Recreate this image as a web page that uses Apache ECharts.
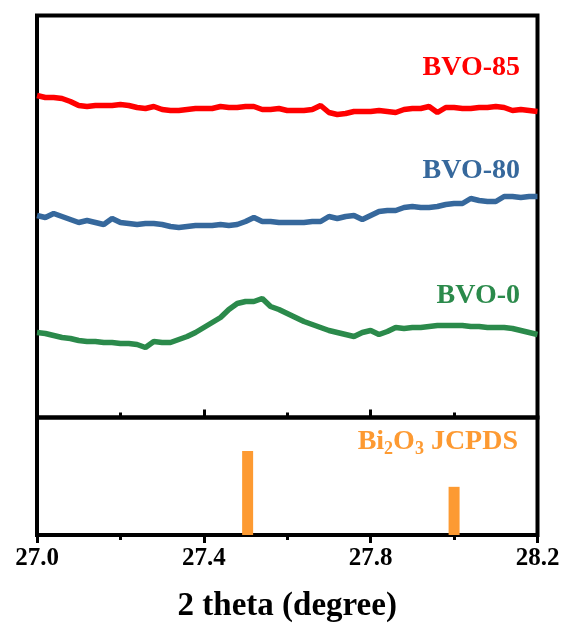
<!DOCTYPE html>
<html>
<head>
<meta charset="utf-8">
<script src="https://cdn.jsdelivr.net/npm/echarts@6/dist/echarts.min.js"></script>
<style>
  html, body { margin: 0; padding: 0; background: #fff; }
  #main { width: 566px; height: 628px; }
</style>
</head>
<body>
<div id="main"></div>
<script>
'use strict';

// 2 theta, step 0.02 from 27.00 to 28.20
var twoTheta = [];
for (var i = 0; i <= 60; i++) twoTheta.push(+(27 + i * 0.02).toFixed(2));

// intensities (a.u., offset traces as plotted)
var bvo85 = [322, 320, 320, 319, 316, 312, 311, 312, 312, 312, 313, 312, 310, 309, 311, 308, 307, 307, 308, 309,
  309, 309, 311, 310, 310, 311, 311, 308, 308, 309, 307, 307, 307, 308, 312, 305, 303, 304, 306, 306,
  306, 307, 306, 305, 308, 309, 309, 311, 305, 310, 310, 309, 309, 310, 310, 311, 310, 307, 308, 307, 306];
var bvo80 = [202, 200, 204, 201, 198, 195, 197, 195, 193, 199, 195, 194, 193, 194, 194, 193, 191, 190, 191, 192,
  192, 192, 193, 192, 193, 196, 200, 196, 196, 195, 195, 195, 195, 196, 196, 201, 199, 201, 202, 198,
  202, 206, 207, 207, 210, 211, 210, 210, 211, 213, 214, 214, 219, 217, 216, 216, 221, 221, 220, 221, 221];
var bvo0 = [85, 84, 82, 80, 79, 77, 76, 76, 75, 75, 74, 74, 73, 70, 76, 75, 75, 78, 81, 85,
  90, 95, 100, 108, 114, 116, 116, 119, 111, 108, 104, 100, 96, 93, 90, 87, 85, 83, 81, 85,
  87, 83, 86, 90, 89, 90, 90, 91, 92, 92, 92, 92, 91, 91, 90, 90, 90, 89, 87, 85, 83];

// Bi2O3 reference lines (JCPDS)
var refPos = [27.505, 28.0];
var refInt = [71.5, 41];

var xTicks = [27.0, 27.4, 27.8, 28.2];

var serif = '"Liberation Serif", "Times New Roman", serif';

function pairs(xs, ys) {
  return xs.map(function (x, k) { return [x, ys[k]]; });
}

var chart = echarts.init(document.getElementById('main'), null, { renderer: 'canvas' });

var xBase = {
  type: 'value',
  min: xTicks[0],
  max: xTicks[xTicks.length - 1],
  interval: 0.4,
  axisLine: { show: false },
  splitLine: { show: false },
  minorTick: { show: true, splitNumber: 2, length: 5, lineStyle: { color: '#000', width: 3 } },
  axisTick: { show: true, length: 8, lineStyle: { color: '#000', width: 3 } }
};

var option = {
  animation: false,
  backgroundColor: '#fff',
  grid: [
    { left: 37, right: 28.5, top: 15.5, height: 402, show: true, borderColor: '#000', borderWidth: 4 },
    { left: 37, right: 28.5, top: 417.5, height: 117.5, show: true, borderColor: '#000', borderWidth: 4 }
  ],
  xAxis: [
    Object.assign({}, xBase, {
      gridIndex: 0,
      axisTick: Object.assign({}, xBase.axisTick, { inside: true }),
      minorTick: Object.assign({}, xBase.minorTick, { inside: true }),
      axisLabel: { show: false }
    }),
    Object.assign({}, xBase, {
      gridIndex: 1,
      axisLabel: {
        show: true, margin: 11, color: '#000', fontFamily: serif, fontWeight: 'bold', fontSize: 25,
        formatter: function (v) { return v.toFixed(1); }
      },
      name: '2 theta (degree)',
      nameLocation: 'middle',
      nameGap: 55,
      nameTextStyle: { color: '#000', fontFamily: serif, fontWeight: 'bold', fontSize: 33 }
    })
  ],
  yAxis: [
    { type: 'value', gridIndex: 0, min: 0, max: 402, show: false },
    { type: 'value', gridIndex: 1, min: 0, max: 100, show: false }
  ],
  series: [
    {
      name: 'BVO-85', type: 'line', xAxisIndex: 0, yAxisIndex: 0, data: pairs(twoTheta, bvo85),
      showSymbol: false, lineStyle: { color: '#ff0000', width: 5.5 }, z: 3
    },
    {
      name: 'BVO-80', type: 'line', xAxisIndex: 0, yAxisIndex: 0, data: pairs(twoTheta, bvo80),
      showSymbol: false, lineStyle: { color: '#36689c', width: 5.5 }, z: 3
    },
    {
      name: 'BVO-0', type: 'line', xAxisIndex: 0, yAxisIndex: 0, data: pairs(twoTheta, bvo0),
      showSymbol: false, lineStyle: { color: '#2b8a4b', width: 5.5 }, z: 3
    },
    {
      name: 'Bi2O3 JCPDS', type: 'bar', xAxisIndex: 1, yAxisIndex: 1, data: pairs(refPos, refInt),
      barWidth: 11, itemStyle: { color: '#fd9a32' }, z: 1
    }
  ],
  graphic: [
    { type: 'text', x: 520, y: 68, style: { text: 'BVO-85', fill: '#ff0000', font: 'bold 28px ' + serif, align: 'right', verticalAlign: 'middle' } },
    { type: 'text', x: 520, y: 171, style: { text: 'BVO-80', fill: '#36689c', font: 'bold 28px ' + serif, align: 'right', verticalAlign: 'middle' } },
    { type: 'text', x: 520, y: 295.5, style: { text: 'BVO-0', fill: '#2b8a4b', font: 'bold 28px ' + serif, align: 'right', verticalAlign: 'middle' } },
    {
      type: 'text', x: 518, y: 428,
      style: {
        text: '{m|Bi}{s|2}{m|O}{s|3}{m| JCPDS}',
        align: 'right', verticalAlign: 'top',
        rich: {
          m: { fill: '#fd9a32', fontFamily: serif, fontWeight: 'bold', fontSize: 28, lineHeight: 30, verticalAlign: 'top' },
          s: { fill: '#fd9a32', fontFamily: serif, fontWeight: 'bold', fontSize: 18, lineHeight: 18, verticalAlign: 'bottom' }
        }
      }
    }
  ]
};

chart.setOption(option);
</script>
</body>
</html>
